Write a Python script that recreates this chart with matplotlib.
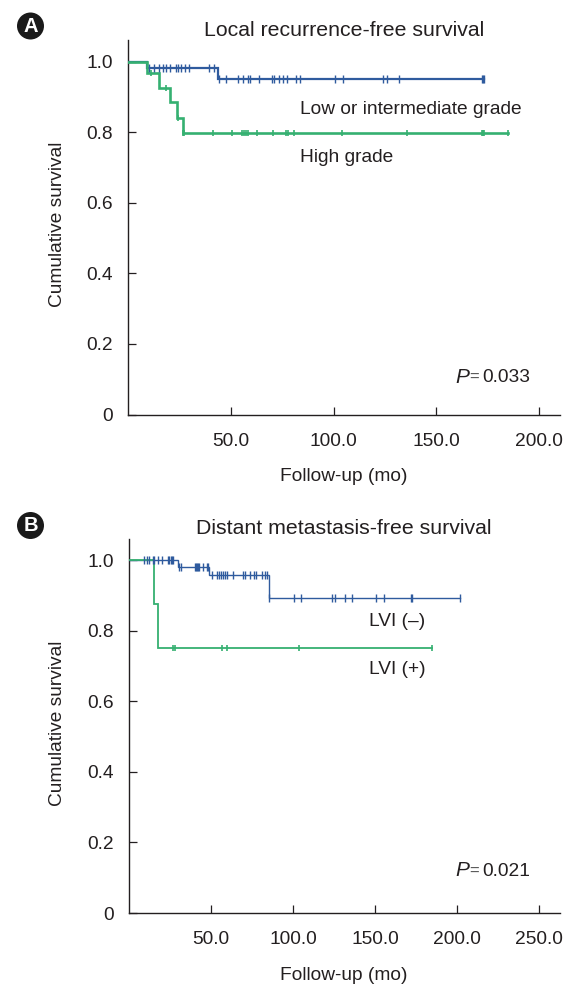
import numpy as np
import matplotlib
matplotlib.use('Agg')
import matplotlib.pyplot as plt

plt.rcParams['font.family'] = ['Liberation Sans', 'DejaVu Sans']

W, H = 571, 985
BLUE = '#2f5b9e'
GREEN = '#35b071'
DARK = '#231f20'

# panel A
a_blue_t = [0, 9.2, 43.4, 173]
a_blue_s = [1.0, 0.983, 0.951, 0.951]
a_blue_c = [10.2, 12.5, 15.1, 17.0, 18.3, 20.3, 23.2, 24.2, 25.5, 27.4, 29.4, 39.4, 41.7,
            44.3, 47.5, 53.5, 56, 58.4, 59.2, 63.6, 69.8, 70.9, 73.5, 75.5, 77.1, 81.6, 83.6,
            100.6, 104.7, 123.9, 125.8, 131.8, 172, 172.5, 173]
a_green_t = [0, 9.2, 15, 20.3, 23.5, 26.4, 185]
a_green_s = [1.0, 0.967, 0.926, 0.885, 0.841, 0.797, 0.797]
a_green_c = [11.2, 18.3, 24.2, 26.4, 27.1, 41.4, 50.3, 55.5, 56.3, 57.1, 58.1, 62.5, 70.6,
             76.8, 77.9, 80.7, 103.9, 135.9, 172, 172.5, 173, 185]

# panel B
b_blue_t = [0, 29.7, 48.8, 85.6, 202]
b_blue_s = [1.0, 0.98, 0.959, 0.894, 0.894]
b_blue_c = [9.4, 10.8, 12.4, 14.4, 15.4, 17.9, 19.9, 24, 24.6, 25.4, 26.2, 27,
            30.5, 31.7, 40.2, 40.9, 41.7, 42.3, 42.9, 44.9, 47.4, 48,
            50.4, 53.9, 55.1, 56.1, 57.5, 58.5, 59.6, 63.2, 69.7, 70.7, 73.8, 76.2, 77.2, 80.9, 82.9, 84,
            85.6, 100.6, 104.7, 123.6, 125.6, 131.7, 135.8, 150.6, 155.7, 172, 172.6, 202]
b_green_t = [0, 15.4, 17.9, 185]
b_green_s = [1.0, 0.876, 0.75, 0.75]
b_green_c = [27, 28, 56.5, 59.6, 103.7, 185]

y_ticks = [0, 0.2, 0.4, 0.6, 0.8, 1.0]
y_labels = ['0', '0.2', '0.4', '0.6', '0.8', '1.0']
a_x_ticks = [50, 100, 150, 200]
b_x_ticks = [50, 100, 150, 200, 250]


def make_axes(fig, left, right, top, bottom):
    ax = fig.add_axes([left / W, 1 - bottom / H, (right - left) / W, (bottom - top) / H])
    ax.spines['top'].set_visible(False)
    ax.spines['right'].set_visible(False)
    ax.spines['left'].set_linewidth(1.0)
    ax.spines['bottom'].set_linewidth(1.0)
    ax.spines['left'].set_color(DARK)
    ax.spines['bottom'].set_color(DARK)
    ax.tick_params(direction='in', length=5.5, width=0.9, color=DARK, labelcolor=DARK, labelsize=13.8)
    ax.tick_params(axis='x', pad=13)
    ax.tick_params(axis='y', pad=11)
    ax.set_yticks(y_ticks)
    ax.set_yticklabels(y_labels)
    return ax


def curve(ax, t, s, cens, color, lw, ms, mew):
    ax.plot(t, s, drawstyle='steps-post', color=color, lw=lw, solid_joinstyle='miter', zorder=3)
    idx = np.searchsorted(t, cens, side='right') - 1
    ax.plot(cens, np.array(s)[idx], ls='none', marker='|', color=color, ms=ms, mew=mew, zorder=4)


def label(x, y, txt, **kw):
    kw.setdefault('fontsize', 13.8)
    kw.setdefault('color', DARK)
    kw.setdefault('va', 'center')
    fig.text(x / W, 1 - y / H, txt, **kw)


fig = plt.figure(figsize=(W / 100, H / 100), dpi=100)

ax1 = make_axes(fig, 128.4, 560, 40, 414.5)
ax1.set_xlim(0, (560 - 128.4) / 2.053)
ax1.set_ylim(0, 374.5 / 352.8)
ax1.set_xticks(a_x_ticks)
ax1.set_xticklabels(['%.1f' % v for v in a_x_ticks])
curve(ax1, a_blue_t, a_blue_s, a_blue_c, BLUE, 1.6, 5.5, 1.0)
curve(ax1, a_green_t, a_green_s, a_green_c, GREEN, 1.9, 5, 1.2)

ax2 = make_axes(fig, 129, 560, 539, 913)
ax2.set_xlim(0, (560 - 129) / 1.64)
ax2.set_ylim(0, 374 / 352.7)
ax2.set_xticks(b_x_ticks)
ax2.set_xticklabels(['%.1f' % v for v in b_x_ticks])
curve(ax2, b_blue_t, b_blue_s, b_blue_c, BLUE, 1.0, 5.5, 1.0)
curve(ax2, b_green_t, b_green_s, b_green_c, GREEN, 1.3, 5, 1.2)

label(344, 30, 'Local recurrence-free survival', ha='center', fontsize=15.3)
label(344, 529, 'Distant metastasis-free survival', ha='center', fontsize=15.3)
label(344, 477, 'Follow-up (mo)', ha='center')
label(344, 976, 'Follow-up (mo)', ha='center')
label(58, 224, 'Cumulative survival', ha='center', rotation=90)
label(58, 723, 'Cumulative survival', ha='center', rotation=90)
label(300, 109, 'Low or intermediate grade')
label(300, 157, 'High grade')
label(369, 622, 'LVI (–)')
label(369, 670, 'LVI (+)')

for y, p in [(377, '0.033'), (871, '0.021')]:
    label(455, y, 'P', style='italic', fontsize=15)
    label(469, y, '=', fontsize=12, color='#555555')
    label(482, y, p)

for y, s in [(26, 'A'), (525.5, 'B')]:
    fig.add_artist(plt.Circle((30.5 / 100, (H - y) / 100), 13.5 / 100, transform=fig.dpi_scale_trans,
                              fc='#1a1a1a', ec='none'))
    label(30.5, y, s, ha='center', color='white', fontweight='bold', fontsize=14.5)

fig.savefig('out.png', dpi=100)
